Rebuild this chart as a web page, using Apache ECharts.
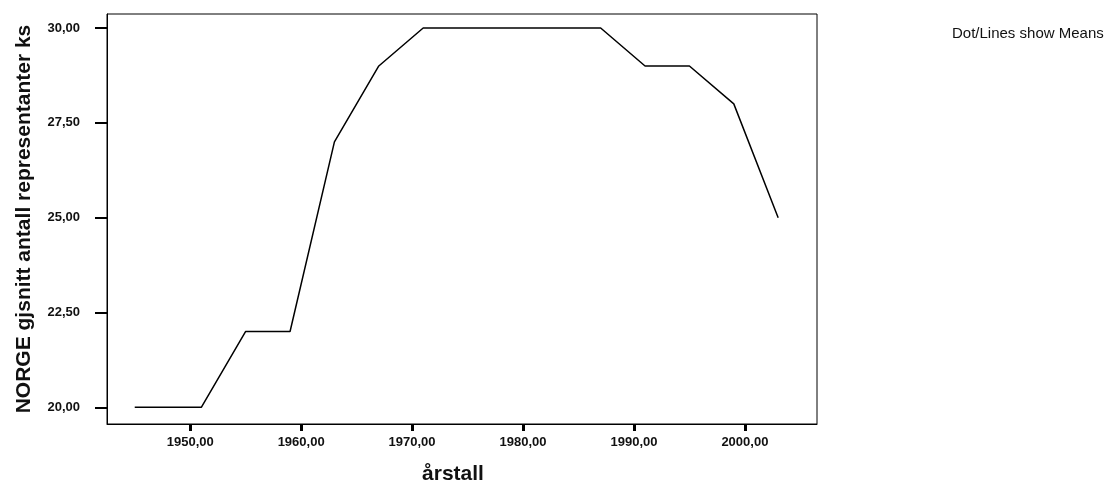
<!DOCTYPE html>
<html><head><meta charset="utf-8">
<script src="https://cdn.jsdelivr.net/npm/echarts@6/dist/echarts.min.js"></script>
<style>html,body{margin:0;padding:0;background:#fff}#c{width:1109px;height:490px}</style>
</head><body><div id="c"></div>
<script>
const years = [1945, 1947, 1951, 1955, 1959, 1963, 1967, 1971, 1975, 1979, 1983, 1987, 1991, 1995, 1999, 2003];
const means = [20, 20, 20, 22, 22, 27, 29, 30, 30, 30, 30, 30, 29, 29, 28, 25];
const xTicks = [1950, 1960, 1970, 1980, 1990, 2000];
const yTicks = [20, 22.5, 25, 27.5, 30];
const fmt = v => v.toFixed(2).replace('.', ',');
const chart = echarts.init(document.getElementById('c'));
chart.setOption({
  animation: false,
  backgroundColor: '#fff',
  grid: {left: 107, top: 14, right: 292, bottom: 64, show: true, borderColor: '#000', borderWidth: 1},
  graphic: [{type: 'text', left: 952, top: 26, style: {text: 'Dot/Lines show Means', font: '15px "Liberation Sans", Arial, sans-serif', fill: '#111'}}],
  xAxis: {
    type: 'value', min: 1942.5, max: 2006.5,
    name: 'årstall', nameLocation: 'middle', nameGap: 40,
    nameTextStyle: {fontFamily: '"Liberation Sans", Arial', fontWeight: 'bold', fontSize: 21, color: '#111', padding: [0, 18, 0, 0]},
    axisLine: {show: true, lineStyle: {color: '#000', width: 1}},
    axisTick: {show: true, length: 7, customValues: xTicks, lineStyle: {color: '#000', width: 3}},
    axisLabel: {customValues: xTicks, formatter: fmt, margin: 12, fontFamily: '"Liberation Sans", Arial', fontWeight: 'bold', fontSize: 13, color: '#111'},
    splitLine: {show: false}
  },
  yAxis: {
    type: 'value', min: 19.56, max: 30.37,
    name: 'NORGE gjsnitt antall representanter ks', nameLocation: 'middle', nameGap: 72,
    nameTextStyle: {fontFamily: '"Liberation Sans", Arial', fontWeight: 'bold', fontSize: 21, color: '#111'},
    axisLine: {show: true, lineStyle: {color: '#000', width: 1}},
    axisTick: {show: true, length: 12, customValues: yTicks, lineStyle: {color: '#000', width: 2}},
    axisLabel: {customValues: yTicks, formatter: fmt, margin: 27, fontFamily: '"Liberation Sans", Arial', fontWeight: 'bold', fontSize: 13, color: '#111'},
    splitLine: {show: false}
  },
  series: [{
    type: 'line', data: years.map((y, i) => [y, means[i]]),
    showSymbol: false, lineStyle: {color: '#000', width: 1.5}
  }]
});
</script></body></html>
